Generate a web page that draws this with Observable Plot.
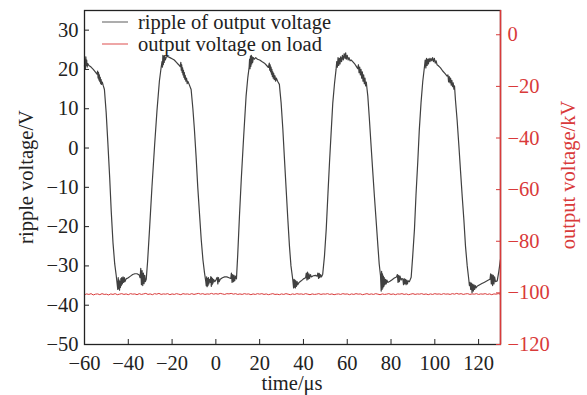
<!DOCTYPE html>
<html><head><meta charset="utf-8">
<script src="https://cdn.jsdelivr.net/npm/d3@7"></script>
<script src="https://cdn.jsdelivr.net/npm/@observablehq/plot@0.6"></script>
<style>
body{margin:0;background:#fff;}
#wrap{position:relative;width:587px;height:395px;font-family:"Liberation Serif","Times New Roman",serif;color:#222;}
.lbl{position:absolute;font-size:20.5px;white-space:nowrap;line-height:22px;}
#legend{position:absolute;left:102px;top:11px;font-size:20.5px;line-height:22px;color:#222;}
#legend div{display:flex;align-items:center;height:22px;}
#legend svg{margin-right:10px;}
</style></head><body>
<div id="wrap"><div id="chart"></div>
<div id="legend"></div>
<div class="lbl" id="xl" style="left:292px;top:372px;transform:translateX(-50%);">time/μs</div>
<div class="lbl" id="yl" style="left:26px;top:177px;transform:translate(-50%,-50%) rotate(-90deg);">ripple voltage/V</div>
<div class="lbl" id="yr" style="left:568px;top:175px;color:#d93a3a;transform:translate(-50%,-50%) rotate(-90deg);">output voltage/kV</div>
</div>
<script>
const xTicks = [-60, -40, -20, 0, 20, 40, 60, 80, 100, 120];
const leftTicks = [-50, -40, -30, -20, -10, 0, 10, 20, 30];
const rightTicks = [-120, -100, -80, -60, -40, -20, 0];
const xDomain = [-60, 130];
const leftDomain = [-50, 35];
const rightDomain = [-120, 9.4];
const seriesNames = ["ripple of output voltage", "output voltage on load"];

// ripple of output voltage: [time μs, voltage V]
const ripple = [
[-60,20.8],[-59.8,22.6],[-59.6,20.2],[-59.4,23.2],[-59.2,21.0],[-59.0,22.4],[-58.8,20.6],[-58.5,21.5],[-58,21.0],[-57,20.6],[-56,20.0],[-55,19.3],
[-54.3,18.8],[-54.0,19.6],[-53.8,17.8],[-53.6,19.2],[-53.4,17.3],[-53.2,18.6],[-53.0,16.9],[-52.8,18.0],[-52.6,16.4],[-52.4,17.4],[-52.2,16.2],[-51.9,16.8],[-51.5,16.0],
[-50.9,14.9],[-50.1,9.0],[-49.3,1.0],[-48.5,-7.5],[-47.8,-16.0],[-47.0,-24.0],[-46.2,-29.5],[-45.5,-32.5],[-45.0,-35.0],
[-44.8,-36.0],[-44.6,-33.0],[-44.4,-35.8],[-44.2,-33.6],[-44.0,-36.2],[-43.8,-34.0],[-43.6,-35.5],[-43.4,-33.2],[-43.2,-35.0],[-43.0,-33.0],[-42.7,-34.6],[-42.4,-32.8],[-42.1,-34.2],[-41.8,-33.0],[-41.5,-34.0],[-41.0,-33.3],
[-40.0,-33.0],[-39.0,-32.6],[-38.0,-32.2],[-37.0,-32.0],[-36.0,-32.0],[-35.0,-32.3],[-34.6,-33.0],
[-34.3,-30.6],[-34.0,-34.8],[-33.7,-31.2],[-33.4,-35.0],[-33.1,-31.8],[-32.8,-34.5],[-32.5,-32.4],[-32.2,-34.0],[-31.8,-33.4],
[-31.2,-29.0],[-30.3,-20.7],[-29.2,-10.0],[-28.0,0.5],[-26.9,9.5],[-25.8,17.0],[-25.0,20.5],
[-24.6,22.0],[-24.4,20.6],[-24.2,23.6],[-24.0,21.2],[-23.8,23.4],[-23.6,21.8],[-23.4,23.5],[-23.1,22.4],[-22.6,23.2],[-22.0,23.3],[-21.0,23.0],[-20.0,22.7],[-19.0,22.4],[-18.0,21.8],[-17.0,21.2],[-16.3,20.7],
[-16.0,21.8],[-15.8,19.8],[-15.6,21.2],[-15.4,19.2],[-15.2,20.4],[-15.0,18.6],[-14.8,19.8],[-14.6,18.0],[-14.4,19.2],[-14.2,17.5],[-14.0,18.5],[-13.7,17.0],[-13.4,17.8],[-13.1,16.4],[-12.8,17.0],[-12.2,16.2],
[-11.3,14.9],[-10.5,10.0],[-9.8,4.7],[-9.0,-2.5],[-8.3,-9.7],[-7.5,-16.5],[-6.7,-23.2],[-5.9,-28.5],[-5.2,-31.7],[-4.6,-34.0],
[-4.4,-35.0],[-4.2,-32.8],[-4.0,-35.3],[-3.8,-33.2],[-3.6,-35.0],[-3.4,-33.0],[-3.2,-34.6],[-3.0,-33.4],[-2.6,-34.2],[-2.3,-32.7],[-2.1,-35.2],[-1.9,-33.0],[-1.7,-34.8],[-1.5,-33.2],[-1.3,-34.4],[-1.0,-33.5],[-0.5,-34.0],[0.0,-33.6],[0.6,-32.9],[0.9,-34.6],[1.2,-33.0],[1.5,-34.0],[2.0,-33.4],[3.0,-33.0],[4.0,-32.8],[5.0,-32.8],[6.0,-33.0],[6.8,-33.2],
[7.1,-31.8],[7.4,-34.2],[7.7,-32.2],[8.0,-34.0],[8.3,-32.4],[8.6,-33.8],[9.0,-32.6],[9.4,-33.3],
[10.0,-27.0],[10.8,-17.0],[11.6,-8.0],[12.7,3.0],[13.8,13.2],[14.6,18.0],[15.2,20.6],
[15.4,22.6],[15.6,20.2],[15.8,23.4],[16.0,20.8],[16.2,23.6],[16.4,21.4],[16.6,23.2],[16.8,21.8],[17.1,23.0],[17.6,22.6],[18.2,23.0],[19.0,22.6],[20.0,22.4],[21.0,22.0],[22.2,21.6],[23.2,21.0],[24.0,20.5],
[24.4,21.6],[24.6,19.8],[24.8,21.2],[25.0,19.4],[25.2,20.6],[25.4,18.8],[25.6,20.0],[25.8,18.2],[26.0,19.4],[26.2,17.8],[26.4,19.0],[26.7,17.4],[27.0,18.4],[27.3,17.0],[27.6,17.8],[28.2,17.0],
[29.0,16.2],[29.8,11.5],[30.6,4.7],[31.3,-2.5],[32.1,-10.5],[32.8,-17.5],[33.6,-24.9],[34.3,-30.0],[35.1,-33.4],
[35.5,-35.6],[35.7,-33.4],[35.9,-35.4],[36.1,-33.6],[36.3,-35.6],[36.5,-33.8],[36.8,-35.2],[37.1,-34.0],[37.4,-34.8],[38.0,-34.2],[39.0,-33.8],[40.0,-33.3],[41.0,-33.0],
[41.3,-31.8],[41.6,-33.6],[41.9,-31.6],[42.2,-33.4],[42.5,-32.0],[42.8,-33.2],[43.2,-32.2],[43.6,-32.8],[44.5,-32.5],[45.5,-32.4],[46.3,-32.6],
[46.6,-31.8],[46.9,-33.2],[47.2,-31.9],[47.5,-33.0],[47.8,-32.2],[48.2,-32.8],[48.8,-32.1],
[49.6,-27.5],[50.4,-20.7],[51.2,-11.5],[51.9,-3.7],[52.7,4.5],[53.4,11.5],[54.2,16.5],[54.9,20.0],
[55.2,22.0],[55.5,20.6],[55.8,23.0],[56.1,21.0],[56.4,22.8],[56.7,21.4],[57.0,23.2],[57.4,22.0],[57.8,23.6],[58.2,22.4],[58.6,24.0],[59.0,22.8],[59.3,24.2],[59.6,22.6],[60.0,23.6],[60.4,22.4],[60.8,23.0],[61.3,22.2],[61.8,22.4],[62.5,22.0],[63.3,21.5],[64.0,20.9],[64.8,20.2],
[65.1,21.2],[65.4,19.2],[65.7,20.6],[66.0,18.6],[66.3,20.0],[66.6,17.8],[66.9,19.4],[67.2,17.0],[67.5,18.6],[67.8,16.4],[68.1,17.8],[68.4,15.8],[68.7,16.8],[69.0,15.2],
[69.4,13.2],[70.1,7.5],[70.9,0.5],[71.6,-5.5],[72.4,-12.2],[73.2,-18.5],[74.0,-24.9],[74.6,-29.5],[75.2,-32.5],
[75.5,-36.4],[75.7,-31.4],[75.9,-36.0],[76.1,-32.0],[76.3,-35.6],[76.5,-32.6],[76.7,-35.2],[76.9,-33.0],[77.2,-34.8],[77.5,-33.4],[77.8,-34.6],[78.1,-33.6],[78.5,-34.2],[79.5,-33.9],[80.5,-33.5],[81.5,-33.1],[82.5,-32.8],
[82.9,-32.2],[83.2,-34.2],[83.5,-32.4],[83.8,-34.0],[84.1,-32.6],[84.6,-33.6],[85.0,-33.2],
[85.4,-33.4],[85.7,-34.8],[86.0,-33.2],[86.3,-34.6],[86.6,-33.4],[86.9,-34.8],[87.2,-33.6],[87.5,-34.6],[87.8,-33.8],[88.4,-34.0],[89.2,-32.9],
[89.9,-27.5],[90.7,-20.7],[91.4,-12.0],[92.2,-3.7],[92.9,4.5],[93.7,11.5],[94.5,17.0],[95.3,20.8],
[95.6,22.4],[95.9,20.4],[96.2,22.8],[96.5,21.0],[96.8,22.6],[97.1,21.4],[97.4,22.8],[97.8,22.0],[98.2,22.8],[98.6,22.2],[99.0,23.0],[99.4,22.0],[99.8,22.8],[100.2,21.6],[100.6,22.2],[101.0,21.2],[101.5,21.0],[102.6,20.4],[103.6,19.6],[104.6,19.0],[105.6,18.3],
[106.0,18.6],[106.3,16.8],[106.6,18.2],[106.9,16.6],[107.2,17.8],[107.5,16.0],[107.8,17.2],[108.1,15.6],[108.4,16.6],[108.7,15.0],[109.0,15.8],
[109.4,12.4],[110.2,7.0],[111.0,0.5],[111.7,-5.5],[112.5,-12.2],[113.3,-18.5],[114.0,-24.9],[114.8,-30.0],[115.5,-33.4],
[115.8,-35.0],[116.1,-34.2],[116.4,-36.0],[116.7,-34.4],[117.0,-36.8],[117.3,-34.6],[117.6,-36.4],[117.9,-34.8],[118.2,-36.0],[118.5,-35.0],[118.8,-35.6],[119.3,-35.2],[120.5,-34.8],[121.5,-34.5],[122.5,-34.2],[123.5,-33.9],[124.5,-33.6],[125.2,-33.4],
[125.5,-32.0],[125.8,-34.6],[126.1,-32.2],[126.4,-35.0],[126.7,-32.4],[127.0,-34.6],[127.3,-32.8],[127.7,-34.0],[128.5,-33.8],[129.2,-31.5],[130,-28.3]
];

// output voltage on load: [time μs, voltage kV]
const loadVoltage = [
[-60,-100.7],[-59,-100.4],[-58,-100.6],[-57,-100.3],[-56,-100.8],[-55,-100.5],[-54,-100.4],[-53,-100.7],[-52,-100.3],[-51,-100.6],
[-50,-100.5],[-49,-100.8],[-48,-100.4],[-47,-100.6],[-46,-100.3],[-45,-100.7],[-44,-100.5],[-43,-100.3],[-42,-100.6],[-41,-100.4],
[-40,-100.7],[-39,-100.3],[-38,-100.5],[-37,-100.4],[-36,-100.7],[-35,-100.3],[-34,-100.6],[-33,-100.4],[-32,-100.2],[-31,-100.6],
[-30,-100.4],[-29,-100.7],[-28,-100.3],[-27,-100.5],[-26,-100.2],[-25,-100.6],[-24,-100.4],[-23,-100.5],[-22,-100.3],[-21,-100.7],
[-20,-100.4],[-19,-100.6],[-18,-100.3],[-17,-100.5],[-16,-100.7],[-15,-100.3],[-14,-100.5],[-13,-100.4],[-12,-100.6],[-11,-100.3],
[-10,-100.6],[-9,-100.4],[-8,-100.2],[-7,-100.5],[-6,-100.3],[-5,-100.6],[-4,-100.4],[-3,-100.5],[-2,-100.2],[-1,-100.5],
[0,-100.3],[1,-100.5],[2,-100.2],[3,-100.4],[4,-100.6],[5,-100.3],[6,-100.4],[7,-100.2],[8,-100.5],[9,-100.3],
[10,-100.6],[11,-100.4],[12,-100.6],[13,-100.3],[14,-100.5],[15,-100.4],[16,-100.7],[17,-100.4],[18,-100.6],[19,-100.3],
[20,-100.5],[21,-100.3],[22,-100.6],[23,-100.4],[24,-100.7],[25,-100.5],[26,-100.3],[27,-100.6],[28,-100.5],[29,-100.7],
[30,-100.4],[31,-100.6],[32,-100.3],[33,-100.5],[34,-100.7],[35,-100.4],[36,-100.6],[37,-100.3],[38,-100.5],[39,-100.4],
[40,-100.6],[41,-100.3],[42,-100.5],[43,-100.7],[44,-100.4],[45,-100.6],[46,-100.5],[47,-100.3],[48,-100.6],[49,-100.4],
[50,-100.5],[51,-100.3],[52,-100.6],[53,-100.4],[54,-100.7],[55,-100.5],[56,-100.4],[57,-100.6],[58,-100.3],[59,-100.5],
[60,-100.4],[61,-100.7],[62,-100.4],[63,-100.6],[64,-100.3],[65,-100.5],[66,-100.4],[67,-100.7],[68,-100.5],[69,-100.3],
[70,-100.6],[71,-100.4],[72,-100.6],[73,-100.3],[74,-100.5],[75,-100.7],[76,-100.4],[77,-100.6],[78,-100.5],[79,-100.3],
[80,-100.6],[81,-100.4],[82,-100.7],[83,-100.4],[84,-100.5],[85,-100.3],[86,-100.6],[87,-100.4],[88,-100.7],[89,-100.5],
[90,-100.3],[91,-100.6],[92,-100.4],[93,-100.5],[94,-100.3],[95,-100.6],[96,-100.4],[97,-100.7],[98,-100.4],[99,-100.6],
[100,-100.3],[101,-100.5],[102,-100.4],[103,-100.6],[104,-100.3],[105,-100.5],[106,-100.4],[107,-100.6],[108,-100.3],[109,-100.5],
[110,-100.2],[111,-100.5],[112,-100.3],[113,-100.6],[114,-100.4],[115,-100.3],[116,-100.6],[117,-100.4],[118,-100.5],[119,-100.3],
[120,-100.6],[121,-100.4],[122,-100.5],[123,-100.3],[124,-100.6],[125,-100.4],[126,-100.7],[127,-100.4],[128,-100.5],[129,-100.3],
[130,-100.5]
];

const red = "#d93a3a";
const gray = "#404040";
const scaleK = (leftDomain[1] - leftDomain[0]) / (rightDomain[1] - rightDomain[0]);
const toLeft = v => leftDomain[0] + (v - rightDomain[0]) * scaleK;
const fromLeft = v => rightDomain[0] + (v - leftDomain[0]) / scaleK;
const fmt = v => (v < 0 ? "\u2212" + (-v) : String(v));

const chart = Plot.plot({
  width: 587, height: 395,
  marginLeft: 84, marginRight: 87, marginTop: 10, marginBottom: 51,
  style: {fontFamily: "'Liberation Serif', 'Times New Roman', serif", fontSize: "20.5px", color: "#222", background: "white", overflow: "visible"},
  x: {domain: xDomain},
  y: {domain: leftDomain},
  marks: [
    Plot.line(loadVoltage, {x: d => d[0], y: d => toLeft(d[1]), stroke: red, strokeWidth: 1}),
    Plot.line(ripple, {x: d => d[0], y: d => d[1], stroke: gray, strokeWidth: 1.2}),
    Plot.frame({stroke: "#222", strokeWidth: 1.3}),
    Plot.ruleX([xDomain[1]], {stroke: red, strokeWidth: 1.5}),
    Plot.axisX(xTicks, {tickSize: -5, tickPadding: 16, tickFormat: fmt, label: null}),
    Plot.axisY(leftTicks, {anchor: "left", tickSize: -5, tickPadding: 11, tickFormat: fmt, label: null}),
    Plot.axisY(rightTicks.map(toLeft), {anchor: "right", tickSize: -5, tickPadding: 12, tickFormat: v => fmt(Math.round(fromLeft(v))), stroke: red, fill: red, label: null})
  ]
});
document.getElementById("chart").appendChild(chart);

const legend = document.getElementById("legend");
[[seriesNames[0], "#777"], [seriesNames[1], "#e26b6b"]].forEach(([name, c]) => {
  const row = document.createElement("div");
  row.innerHTML = `<svg width="26" height="4"><line x1="0" y1="2" x2="26" y2="2" stroke="${c}" stroke-width="1.2"/></svg><span>${name}</span>`;
  legend.appendChild(row);
});
</script>
</body></html>
